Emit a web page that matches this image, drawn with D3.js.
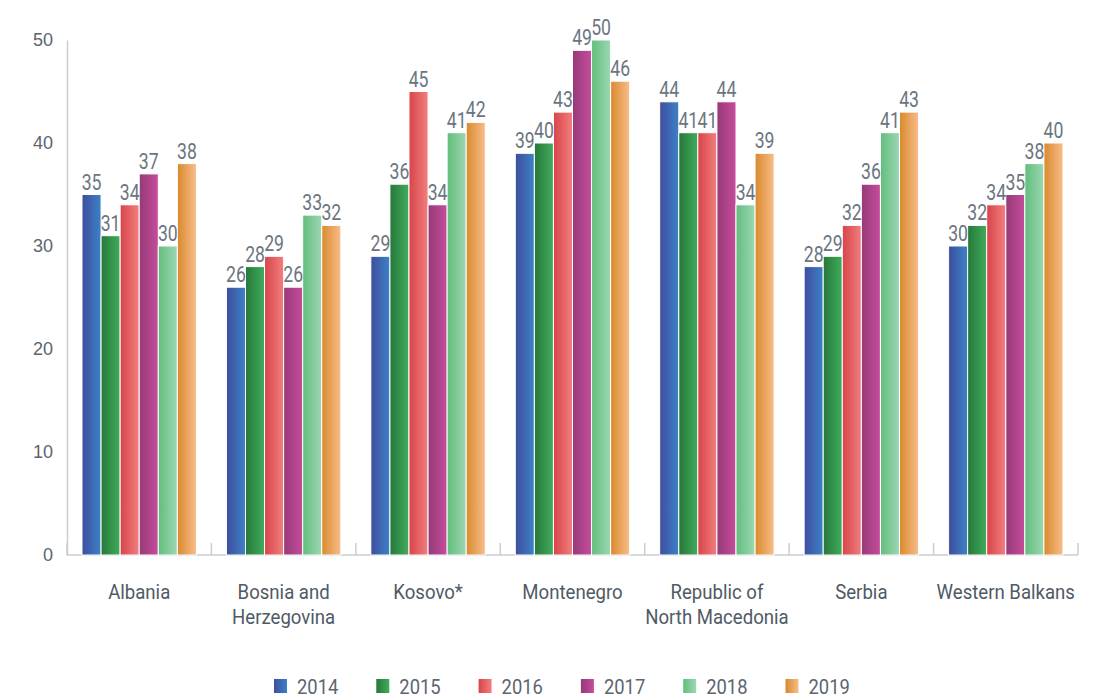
<!DOCTYPE html>
<html>
<head>
<meta charset="utf-8">
<script src="https://cdn.jsdelivr.net/npm/d3@7"></script>
<style>
  body { margin: 0; background: #fff; font-family: Roboto, "Noto Sans", sans-serif; }
  .axis text { fill: #5b6570; }
  .axis path, .axis line { stroke: #c9ced4; }
</style>
</head>
<body>
<div class="gv-chart"></div>
<script>
var countries = ["Albania", "Bosnia and|Herzegovina", "Kosovo*", "Montenegro", "Republic of|North Macedonia", "Serbia", "Western Balkans"];
var years = ["2014", "2015", "2016", "2017", "2018", "2019"];
var v2014 = [35, 26, 29, 39, 44, 28, 30];
var v2015 = [31, 28, 36, 40, 41, 29, 32];
var v2016 = [34, 29, 45, 43, 41, 32, 34];
var v2017 = [37, 26, 34, 49, 44, 36, 35];
var v2018 = [30, 33, 41, 50, 34, 41, 38];
var v2019 = [38, 32, 42, 46, 39, 43, 40];
var yTicks = [0, 10, 20, 30, 40, 50];

var series = [v2014, v2015, v2016, v2017, v2018, v2019];
var colours = [
  ["#3f4d9e", "#3c82c6"],
  ["#27773a", "#40ad5c"],
  ["#d8444a", "#f17f7e"],
  ["#963a77", "#c64c9c"],
  ["#62bd7b", "#9dd7b4"],
  ["#d88a2b", "#f9bd8c"]
];

var margin = {top: 40, right: 25, bottom: 144, left: 67},
    width = 1103 - margin.left - margin.right,
    height = 699 - margin.top - margin.bottom;

var svg = d3.select(".gv-chart").append("svg").attr("width", 1103).attr("height", 699);

var defs = svg.append("defs");
colours.forEach(function(c, i) {
  var gr = defs.append("linearGradient").attr("id", "grad" + i)
    .attr("x1", "0%").attr("x2", "100%").attr("y1", "0%").attr("y2", "0%");
  gr.append("stop").attr("offset", "0%").attr("stop-color", c[0]);
  gr.append("stop").attr("offset", "100%").attr("stop-color", c[1]);
});

// narrow text (no condensed font available, so squeeze it)
function narrow(sel, x, y, sx) {
  return sel.attr("transform", "translate(" + x + "," + y + ") scale(" + sx + ",1)");
}

var g = svg.append("g").attr("transform", "translate(" + margin.left + "," + margin.top + ")");

var x0 = d3.scaleBand().domain(countries).range([0, width]).paddingInner(0).paddingOuter(0);
var x1 = d3.scaleBand().domain(years).range([15, x0.bandwidth() - 15]);
var y = d3.scaleLinear().domain([0, 50]).range([height, 0]);

// y axis
var yAxis = g.append("g").attr("class", "axis")
  .call(d3.axisLeft(y).tickValues(yTicks).tickSize(0).tickPadding(14));
yAxis.select(".domain").attr("stroke-width", 1.5);
yAxis.selectAll("text").style("font-size", "18px").style("font-weight", "500");

// x axis line + ticks between groups
g.append("line").attr("x1", 0).attr("x2", width).attr("y1", height).attr("y2", height)
  .attr("stroke", "#c9ced4").attr("stroke-width", 1.5);
g.selectAll(".sep").data(d3.range(countries.length + 1)).enter().append("line")
  .attr("x1", function(i) { return i * x0.bandwidth(); })
  .attr("x2", function(i) { return i * x0.bandwidth(); })
  .attr("y1", height).attr("y2", height - 12)
  .attr("stroke", "#c9ced4").attr("stroke-width", 1.5);

// bars
var groups = g.selectAll(".grp").data(countries).enter().append("g")
  .attr("transform", function(d) { return "translate(" + x0(d) + ",0)"; });

groups.each(function(c, ci) {
  var sel = d3.select(this);
  years.forEach(function(yr, si) {
    var v = series[si][ci];
    sel.append("rect")
      .attr("x", x1(yr))
      .attr("y", y(v))
      .attr("width", x1.bandwidth())
      .attr("height", height - y(v))
      .attr("fill", "url(#grad" + si + ")")
      .attr("stroke", "#fff").attr("stroke-width", 1);
  });
  years.forEach(function(yr, si) {
    var v = series[si][ci];
    narrow(sel.append("text"), x1(yr) + x1.bandwidth() / 2, y(v) - 5, 0.8)
      .attr("text-anchor", "middle")
      .style("font-size", "22px")
      .attr("fill", "#6b7580")
      .text(v);
  });
});

// category labels
g.selectAll(".cat").data(countries).enter().append("text")
  .attr("transform", function(d) {
    return "translate(" + (x0(d) + x0.bandwidth() / 2) + "," + (height + 44) + ") scale(0.93,1)";
  })
  .attr("text-anchor", "middle")
  .style("font-size", "20px")
  .attr("fill", "#505a65")
  .each(function(d) {
    var t = d3.select(this);
    d.split("|").forEach(function(line, i) {
      t.append("tspan").attr("x", 0).attr("dy", i ? 25 : 0).text(line);
    });
  });

// legend
var legend = svg.append("g").attr("transform", "translate(274,686)");
years.forEach(function(yr, i) {
  var lg = legend.append("g").attr("transform", "translate(" + (i * 102.3) + ",0)");
  lg.append("rect").attr("x", 0).attr("y", -7).attr("width", 13).attr("height", 14)
    .attr("fill", "url(#grad" + i + ")");
  narrow(lg.append("text"), 23, 7.5, 0.92).style("font-size", "20px")
    .attr("fill", "#5b6570").text(yr);
});
</script>
</body>
</html>
